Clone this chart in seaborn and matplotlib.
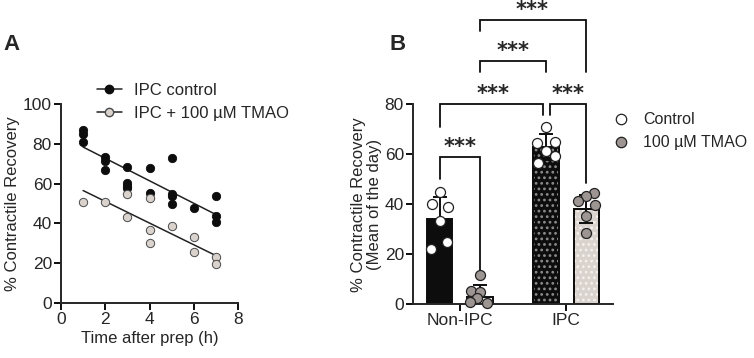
import numpy as np
import pandas as pd
import matplotlib
matplotlib.use("Agg")
import matplotlib.pyplot as plt
import seaborn as sns
from matplotlib.lines import Line2D

sns.set_style("ticks")
plt.rcParams['font.family'] = ['Liberation Sans', 'DejaVu Sans']
plt.rcParams['hatch.linewidth'] = 1.2

# ---------------- Panel A data ----------------
ctrl_time = [1, 1, 1, 2, 2, 2, 3, 3, 3, 3, 4, 4, 5, 5, 5, 5, 6, 7, 7, 7]
ctrl_rec = [87, 85, 81, 73.4, 71.5, 67, 68.2, 60.3, 59, 57.8, 68, 55.3,
            72.9, 54.8, 53.6, 50, 47.9, 53.8, 43.7, 40.7]
tmao_time = [1, 2, 3, 3, 4, 4, 4, 5, 6, 6, 7, 7]
tmao_rec = [51, 51, 55, 43, 52.8, 36.9, 30, 38.9, 33, 25.8, 23, 19.8]
legend_a = ["IPC control", "IPC + 100 µM TMAO"]

# ---------------- Panel B data ----------------
groups = ["Non-IPC", "IPC"]
treatments = ["Control", "100 µM TMAO"]
bar_means = [34, 3, 62.8, 38]          # NC, NT, IC, IT
bar_sd = [9, 4.7, 5.2, 5.5]
pts_nc = [45, 40, 39, 33.3, 25, 22]
pts_nt = [11.7, 5.5, 5, 2.4, 0.8, 0.4]
pts_ic = [70.7, 64.3, 64.7, 61.3, 56.6, 59.4]
pts_it = [44.3, 43.3, 41.4, 39.7, 35.3, 28.6]
stars = "***"

# styling / jitter (layout, not data)
jit_nc = [0, -0.068, 0.08, 0, 0.074, -0.083]
jit_nt = [0, -0.088, 0, -0.03, -0.094, 0.063]
jit_ic = [0, -0.082, 0.085, 0, -0.072, 0.085]
jit_it = [0.075, 0, -0.075, 0.085, 0, 0]

fig = plt.figure(figsize=(7.54, 3.58), dpi=100)
axA = fig.add_axes([61/754, 1-303/358, 177/754, 199/358])
axB = fig.add_axes([413/754, 1-304.3/358, 200/754, 200.3/358])

BLACK = "#0d0d0d"
LIGHT = "#d9d2cd"
GREY = "#9d9592"

# ---------- Panel A ----------
dfc = pd.DataFrame({"t": ctrl_time, "r": ctrl_rec})
dft = pd.DataFrame({"t": tmao_time, "r": tmao_rec})
sns.regplot(data=dfc, x="t", y="r", ax=axA, ci=None, truncate=True,
            scatter_kws=dict(s=36, color=BLACK, edgecolor=BLACK, linewidths=0.6,
                             alpha=1, zorder=3),
            line_kws=dict(color="#222222", lw=1.1, zorder=2))
sns.regplot(data=dft, x="t", y="r", ax=axA, ci=None, truncate=True,
            scatter_kws=dict(s=36, color=LIGHT, edgecolor="#4a4a4a", linewidths=0.7,
                             alpha=1, zorder=3),
            line_kws=dict(color="#222222", lw=1.1, zorder=2))
axA.set_xlim(0, 8)
axA.set_ylim(0, 100)
axA.set_xticks([0, 2, 4, 6, 8])
axA.set_yticks([0, 20, 40, 60, 80, 100])
axA.set_xlabel("Time after prep (h)", fontsize=12, labelpad=3)
axA.set_ylabel("% Contractile Recovery", fontsize=12, labelpad=2)
sns.despine(ax=axA)
for ax in (axA, axB):
    ax.spines['left'].set_linewidth(1.4)
    ax.spines['bottom'].set_linewidth(1.4)
    ax.tick_params(width=1.4, length=5, labelsize=12.5, color=BLACK, pad=1.5)

hA = [Line2D([0], [0], color="#222222", lw=1.1, marker="o", markersize=6,
             markerfacecolor=BLACK, markeredgecolor=BLACK),
      Line2D([0], [0], color="#222222", lw=1.1, marker="o", markersize=6,
             markerfacecolor=LIGHT, markeredgecolor="#4a4a4a")]
axA.legend(hA, legend_a, loc="upper left", bbox_to_anchor=(0.165, 1.14),
           frameon=False, fontsize=12, handlelength=1.5, handletextpad=0.75,
           labelspacing=0.5, borderaxespad=0)

# ---------- Panel B ----------
dfb = pd.DataFrame({"group": [g for g in groups for _ in treatments],
                    "treat": treatments * 2,
                    "val": bar_means})
sns.barplot(data=dfb, x="group", y="val", hue="treat", ax=axB, width=0.76, gap=0.37,
            errorbar=None, legend=False, palette=["#ffffff", "#ffffff"],
            edgecolor=BLACK, linewidth=1.4, zorder=1)
fills = [BLACK, "#ffffff", BLACK, LIGHT]
hatch_col = [None, None, "#8c8c8c", "#f3f0ee"]
# identify bars by their x position (NC, NT, IC, IT from left to right)
patches = sorted([p for p in axB.patches if p.get_width() > 0],
                 key=lambda p: p.get_x())[:4]
centers = {}
for idx, p in enumerate(patches):
    p.set_facecolor(fills[idx])
    centers[idx] = p.get_x() + p.get_width() / 2
    if hatch_col[idx] is not None:
        axB.bar(centers[idx], p.get_height(), width=p.get_width(), facecolor="none",
                edgecolor=hatch_col[idx], hatch="...", linewidth=0, zorder=1.5)
        axB.bar(centers[idx], p.get_height(), width=p.get_width(), facecolor="none",
                edgecolor=BLACK, linewidth=1.4, zorder=1.6)

for idx in range(4):
    axB.errorbar(centers[idx], bar_means[idx], yerr=bar_sd[idx], color=BLACK,
                 capsize=5, capthick=1.4, elinewidth=1.4, zorder=2, fmt="none")

pts = [pts_nc, pts_nt, pts_ic, pts_it]
jits = [jit_nc, jit_nt, jit_ic, jit_it]
for idx in range(4):
    xs = [centers[idx] + j for j in jits[idx]]
    fc = "#ffffff" if idx % 2 == 0 else GREY
    sns.scatterplot(x=xs, y=pts[idx], ax=axB, s=52, color=fc, edgecolor="#222222",
                    linewidth=0.9, zorder=4, legend=False, clip_on=False)

axB.set_xlim(-0.44, 1.44)
axB.set_ylim(0, 80)
axB.set_yticks([0, 20, 40, 60, 80])
axB.set_xlabel("")
axB.set_ylabel("% Contractile Recovery\n(Mean of the day)", fontsize=12, labelpad=2,
               linespacing=1.05)
axB.tick_params(axis="x", labelsize=12.5)
sns.despine(ax=axB)

c = centers
def bracket(x1, x2, y, y1, y2, tx, ty):
    axB.plot([x1, x1, x2, x2], [y1, y, y, y2], color=BLACK, lw=1.3,
             clip_on=False, zorder=3, solid_joinstyle="miter")
    axB.text(tx, ty, stars, ha="center", va="center", fontsize=15,
             fontweight="bold", clip_on=False, family="DejaVu Sans")

bracket(c[0], c[1], 59, 50, 12.6, (c[0] + c[1]) / 2, 63.0)
bracket(c[0], c[2] - 0.03, 80.1, 71, 75.7, 0.31, 84.0)
bracket(c[2] + 0.035, c[3], 80.1, 75.7, 48.6, 1.02, 84.0)
bracket(c[1], c[2], 97, 92.6, 92.6, 0.5, 101.0)
bracket(c[1], c[3], 113.7, 109, 92.6, 0.68, 117.6)

hB = [Line2D([0], [0], lw=0, marker="o", markersize=7.5, markerfacecolor="#ffffff",
             markeredgecolor="#222222", markeredgewidth=0.9),
      Line2D([0], [0], lw=0, marker="o", markersize=7.5, markerfacecolor=GREY,
             markeredgecolor="#222222", markeredgewidth=0.9)]
axB.legend(hB, treatments, loc="upper left", bbox_to_anchor=(0.97, 0.99),
           frameon=False, fontsize=11.5, handlelength=1.0, handletextpad=0.85,
           labelspacing=0.5, borderaxespad=0)

fig.text(11/754, 1-44/358, "A", fontsize=16, fontweight="bold", ha="center", va="center")
fig.text(398/754, 1-44/358, "B", fontsize=16, fontweight="bold", ha="center", va="center")

fig.savefig("out.png", dpi=100)
